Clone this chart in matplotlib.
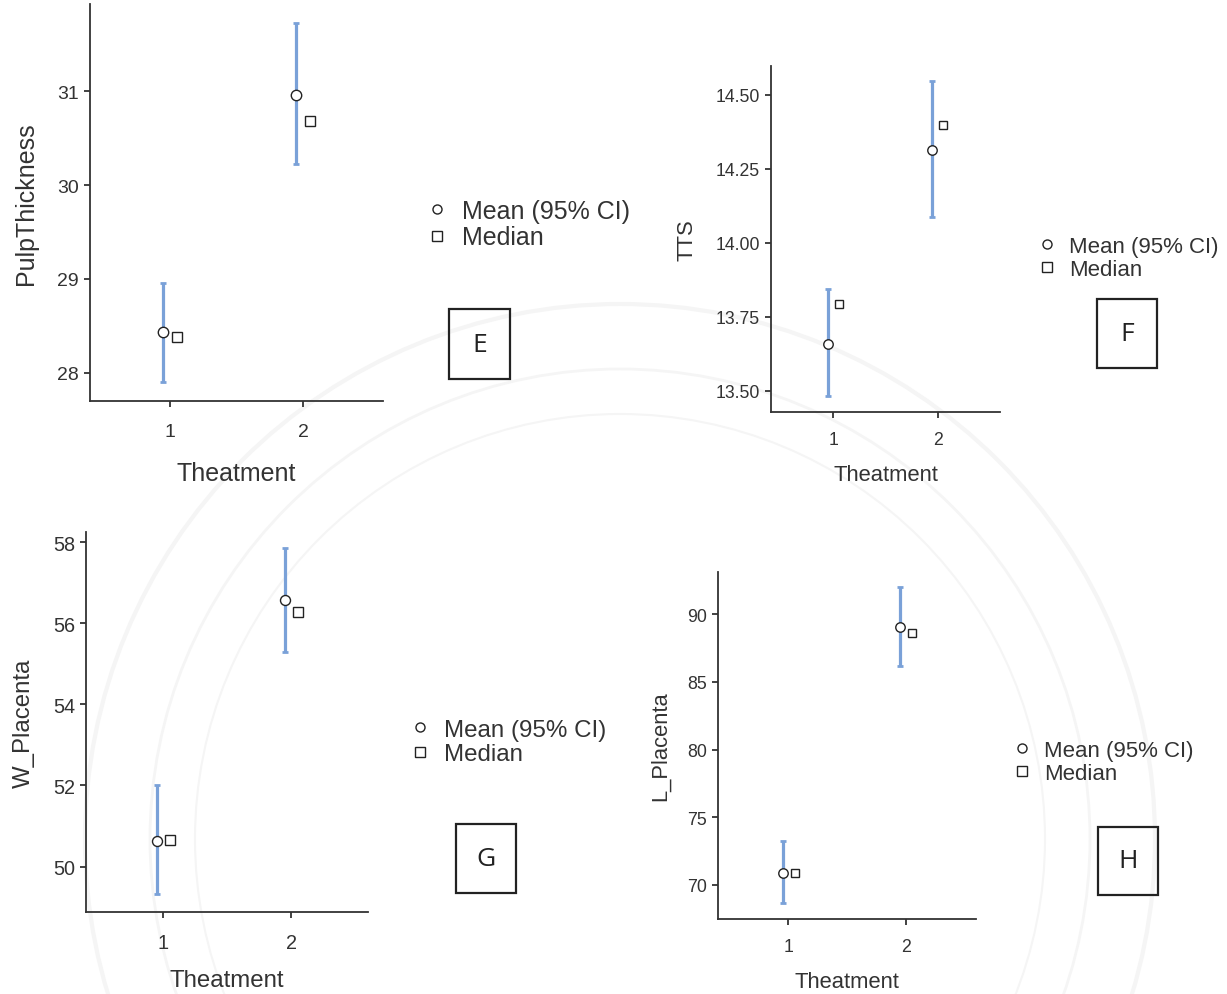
import numpy as np
import matplotlib
matplotlib.use("Agg")
import matplotlib.pyplot as plt
from matplotlib.lines import Line2D
from matplotlib.patches import Rectangle, Circle

plt.rcParams['font.family'] = ['Liberation Sans', 'DejaVu Sans']

# data
groups = [1, 2]

e_mean = [28.43, 30.96]
e_lo = [27.90, 30.22]
e_hi = [28.96, 31.73]
e_median = [28.38, 30.68]

f_mean = [13.658, 14.315]
f_lo = [13.483, 14.088]
f_hi = [13.843, 14.545]
f_median = [13.795, 14.397]

g_mean = [50.62, 56.58]
g_lo = [49.32, 55.30]
g_hi = [52.02, 57.85]
g_median = [50.66, 56.28]

h_mean = [70.84, 89.07]
h_lo = [68.64, 86.19]
h_hi = [73.26, 92.03]
h_median = [70.84, 88.64]

W, H = 1227, 995
fig = plt.figure(figsize=(W / 100, H / 100), dpi=100)

# faint seal watermark in the background
bg = fig.add_axes([0, 0, 1, 1], zorder=-5)
bg.set_xlim(0, W)
bg.set_ylim(H, 0)
bg.axis('off')
for r, lw in [(535, 3), (470, 2), (425, 1.5)]:
    bg.add_patch(Circle((620, 840), r, fill=False, ec='#f5f5f5', lw=lw))

BLUE = '#7aa1d8'
DARK = '#333333'


def px_axes(left, top, right, bottom):
    return fig.add_axes([left / W, 1 - bottom / H, (right - left) / W, (bottom - top) / H])


def panel(box, mean, lo, hi, median, ylim, yticks, fmt, ylabel, ylab_x,
          tick_fs, lab_fs, ms, xpad, leg_xy, leg_fs, letter, letter_box):
    ax = px_axes(*box)
    xm = np.array(groups) - 0.05
    xd = np.array(groups) + 0.055
    mean = np.array(mean)
    err = [mean - np.array(lo), np.array(hi) - mean]
    ax.errorbar(xm, mean, yerr=err, fmt='none', ecolor=BLUE, elinewidth=2.3,
                capsize=2.5, capthick=2, zorder=2)
    ax.plot(xm, mean, 'o', ms=ms, mfc='white', mec='#222222', mew=1.0, zorder=3)
    ax.plot(xd, median, 's', ms=ms * 0.95, mfc='white', mec='#222222', mew=1.0, zorder=3)
    ax.set_xlim(0.4, 2.6)
    ax.set_ylim(*ylim)
    ax.set_xticks(groups)
    ax.set_xticklabels([str(g) for g in groups])
    ax.set_yticks(yticks)
    ax.set_yticklabels([fmt.format(v) for v in yticks])
    ax.patch.set_alpha(0)
    for s in ['top', 'right']:
        ax.spines[s].set_visible(False)
    for s in ['left', 'bottom']:
        ax.spines[s].set_color(DARK)
        ax.spines[s].set_linewidth(1.3)
    ax.tick_params(colors=DARK, labelcolor='#333333', labelsize=tick_fs,
                   length=4, width=1.3, pad=4)
    ax.tick_params(axis='x', pad=xpad)
    ax.set_xlabel('Theatment', fontsize=lab_fs, color='#333333')
    ax.set_ylabel(ylabel, fontsize=lab_fs, color='#333333')
    ax.xaxis.set_label_coords(0.5, -0.15)
    ax.yaxis.set_label_coords(ylab_x, 0.5)

    handles = [Line2D([], [], ls='none', marker='o', ms=6.5, mfc='white', mec='#222222', mew=1.0),
               Line2D([], [], ls='none', marker='s', ms=6.5, mfc='white', mec='#222222', mew=1.0)]
    leg = ax.legend(handles, ['Mean (95% CI)', 'Median'], loc='center left',
                    bbox_to_anchor=(leg_xy[0] / W, 1 - leg_xy[1] / H),
                    bbox_transform=fig.transFigure, frameon=False,
                    fontsize=leg_fs, handlelength=1.0, handletextpad=0.5,
                    labelspacing=0.1, borderpad=0, borderaxespad=0)
    for t in leg.get_texts():
        t.set_color('#333333')

    l, t, r, b = letter_box
    fig.add_artist(Rectangle((l / W, 1 - b / H), (r - l) / W, (b - t) / H,
                             transform=fig.transFigure, fill=False, ec='#222222', lw=1.6))
    fig.text((l + r) / 2 / W, 1 - (t + b) / 2 / H, letter, ha='center', va='center',
             fontsize=19, family='Open Sans', color='#222222')
    return ax


panel((90, 5, 383, 402), e_mean, e_lo, e_hi, e_median, (27.70, 31.93), [28, 29, 30, 31],
      '{:.0f}', 'PulpThickness', -0.177, 14, 18, 7.5, 12, (424, 225), 18, 'E', (449, 310, 510, 380))

panel((771, 67, 1000, 413), f_mean, f_lo, f_hi, f_median, (13.429, 14.597),
      [13.5, 13.75, 14.0, 14.25, 14.5], '{:.2f}', 'TTS', -0.323, 12.7, 15.8, 6.8, 10,
      (1036, 259), 16, 'F', (1097, 300, 1157, 369))

panel((86, 533, 368, 913), g_mean, g_lo, g_hi, g_median, (48.88, 58.25), [50, 52, 54, 56, 58],
      '{:.0f}', 'W_Placenta', -0.181, 14.3, 17.3, 7.2, 11, (408, 743), 17.4, 'G', (456, 825, 516, 894))

panel((718, 573, 976, 920), h_mean, h_lo, h_hi, h_median, (67.46, 93.14), [70, 75, 80, 85, 90],
      '{:.0f}', 'L_Placenta', -0.182, 12.8, 15.8, 6.8, 10, (1011, 763), 16, 'H', (1098, 828, 1158, 896))

fig.savefig('out.png', dpi=100)
